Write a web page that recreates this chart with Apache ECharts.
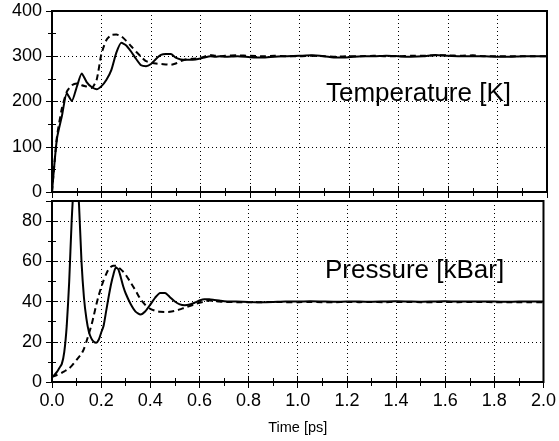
<!DOCTYPE html>
<html>
<head>
<meta charset="utf-8">
<script src="https://cdn.jsdelivr.net/npm/echarts@6/dist/echarts.min.js"></script>
<style>
html,body{margin:0;padding:0;background:#fff;}
#chart{width:559px;height:441px;}
</style>
</head>
<body>
<div id="chart"></div>
<script>
// Temperature panel
var tTemp = [0,0.02,0.04,0.06,0.08,0.10,0.12,0.14,0.16,0.18,0.20,0.22,0.24,0.26,0.28,0.30,0.32,0.34,0.36,0.38,0.40,0.42,0.44,0.46,0.48,0.50,0.52,0.54,0.56,0.58,0.60,0.62,0.64,0.66,0.68,0.70,
  0.75,0.80,0.85,0.90,0.95,1.00,1.05,1.10,1.15,1.20,1.25,1.30,1.35,1.40,1.45,1.50,1.55,1.60,1.65,1.70,1.75,1.80,1.85,1.90,1.95,2.00];
var tempSolid = [0,118,168,218,201,232,262,243,232,227,234,248,270,308,330,324,310,294,280,278,283,294,303,305,305,297,293,292,292,293,295,298,300,299,300,299,
  300,298,297,299,300,301,302,300,297,298,300,300,301,300,299,300,303,301,300,300,300,299,299,300,300,300];
var tempDashed = [0,122,185,222,236,240,236,233,230,247,306,336,347,348,344,334,322,310,299,289,286,284,283,282,281,284,289,293,294,295,297,300,303,301,300,301,
  302,301,300,301,300,300,301,300,299,300,300,301,300,300,301,301,302,302,301,302,300,300,300,300,300,300];

// Pressure panel
var tPres = [0,0.01,0.02,0.03,0.04,0.05,0.06,0.07,0.08,0.09,0.10,0.11,0.12,0.13,0.14,0.15,0.16,0.17,0.18,0.19,0.20,0.21,0.22,0.23,0.24,0.25,0.26,0.27,0.28,0.29,0.30,
  0.32,0.34,0.36,0.38,0.40,0.42,0.44,0.46,0.48,0.50,0.52,0.54,0.56,0.58,0.60,0.62,0.64,0.66,0.68,0.70,
  0.75,0.80,0.85,0.90,0.95,1.00,1.05,1.10,1.15,1.20,1.25,1.30,1.35,1.40,1.45,1.50,1.55,1.60,1.65,1.70,1.75,1.80,1.85,1.90,1.95,2.00];
var presSolid = [2.5,3.5,5,7,9,15,28,50,80,100,105,88,60,42,31.5,25,21.7,20,19.5,21,24.5,28,35,42,48.5,53.5,57,56,52,47.5,44,
  38.8,35,33.6,35.2,38.5,42,44.3,44.3,42.2,40,38.6,38.2,38.5,39.4,40.5,41.2,41.1,40.8,40.5,40.2,
  40,39.8,39.7,39.8,40,40,40.1,40,39.9,40,40,39.9,40,40.1,40,39.9,40,40.1,40,40,40,40,39.9,40,40,40];
var presDashed = [2.5,3,3.5,4,4.6,5.3,6,6.8,8,9.5,11,12.5,14,16.5,20,24,28,33,38.3,43,47,50.5,53.5,56,57.3,57.8,57.8,57,56,54.8,53.3,
  49.5,45.5,41.2,38.3,36.4,35.4,34.9,34.8,34.9,35.4,36.1,37,37.8,38.6,39.4,40,40.5,40.3,40,39.8,
  39.7,39.6,39.7,39.8,39.7,39.7,39.8,39.7,39.7,39.8,39.7,39.8,39.7,39.8,39.8,39.7,39.7,39.8,39.7,39.8,39.8,39.7,39.7,39.7,39.7,39.7];

var xTicks = {min:0, max:2.0, interval:0.2};
var tempAxis = {min:0, max:400, interval:100};
var presAxis = {min:0, max:90, interval:20};

function pairs(t, v){ return t.map(function(x,i){ return [x, v[i]]; }); }

var FONT = 'Liberation Sans';
var tickStyle = {show:true, inside:true, length:6, lineStyle:{color:'#000', width:1}};
var minorStyle = {show:true, splitNumber:2, length:4, lineStyle:{color:'#000', width:1}};
var gridLine = {show:true, lineStyle:{color:'#000', type:[1,3], width:1}};

function xAx(grid, pos, labels, name){
  return {
    type:'value', gridIndex:grid, position:pos, min:xTicks.min, max:xTicks.max, interval:xTicks.interval,
    axisLine:{show:false}, axisTick:tickStyle, minorTick:minorStyle,
    splitLine: pos==='bottom' ? gridLine : {show:false},
    axisLabel:{show:labels, color:'#000', fontFamily:FONT, fontSize:18, margin:10,
      formatter:function(v){ return v.toFixed(1); }},
    name: name || '', nameLocation:'middle', nameGap:38,
    nameTextStyle:{color:'#000', fontFamily:FONT, fontSize:14.5}
  };
}
function yAx(grid, pos, ax, labels){
  return {
    type:'value', gridIndex:grid, position:pos, min:ax.min, max:ax.max, interval:ax.interval,
    axisLine:{show:false}, axisTick:tickStyle, minorTick:minorStyle,
    splitLine: pos==='left' ? gridLine : {show:false},
    axisLabel:{show:labels, color:'#000', fontFamily:FONT, fontSize:18, margin:10, showMaxLabel: ax.max % ax.interval === 0}
  };
}

var chart = echarts.init(document.getElementById('chart'), null, {renderer:'canvas'});
chart.setOption({
  animation:false,
  backgroundColor:'#fff',
  grid:[
    {left:52, top:11, width:495, height:181, show:true, borderColor:'#000', borderWidth:2, backgroundColor:'transparent'},
    {left:52, top:201, width:495, height:181, show:true, borderColor:'#000', borderWidth:2, backgroundColor:'transparent'}
  ],
  xAxis:[
    xAx(0,'bottom',false),
    xAx(0,'top',false),
    xAx(1,'bottom',true,'Time [ps]'),
    xAx(1,'top',false)
  ],
  yAxis:[
    yAx(0,'left',tempAxis,true),
    yAx(0,'right',tempAxis,false),
    yAx(1,'left',presAxis,true),
    yAx(1,'right',presAxis,false)
  ],
  graphic:[
    {type:'text', left:326, top:81, z:1, style:{text:'Temperature [K]', fill:'#000', font:'26px "Liberation Sans"'}},
    {type:'text', left:325, top:258, z:1, style:{text:'Pressure [kBar]', fill:'#000', font:'26px "Liberation Sans"'}}
  ],
  series:[
    {type:'line', xAxisIndex:0, yAxisIndex:0, data:pairs(tTemp,tempSolid), showSymbol:false, smooth:0.2,
      lineStyle:{color:'#000', width:2}, z:5},
    {type:'line', xAxisIndex:0, yAxisIndex:0, data:pairs(tTemp,tempDashed), showSymbol:false, smooth:0.2,
      lineStyle:{color:'#000', width:2, type:[6,4]}, z:5},
    {type:'line', xAxisIndex:2, yAxisIndex:2, data:pairs(tPres,presSolid), showSymbol:false, smooth:0.2,
      lineStyle:{color:'#000', width:2}, z:5},
    {type:'line', xAxisIndex:2, yAxisIndex:2, data:pairs(tPres,presDashed), showSymbol:false, smooth:0.2,
      lineStyle:{color:'#000', width:2, type:[6,4]}, z:5}
  ]
});
</script>
</body>
</html>
